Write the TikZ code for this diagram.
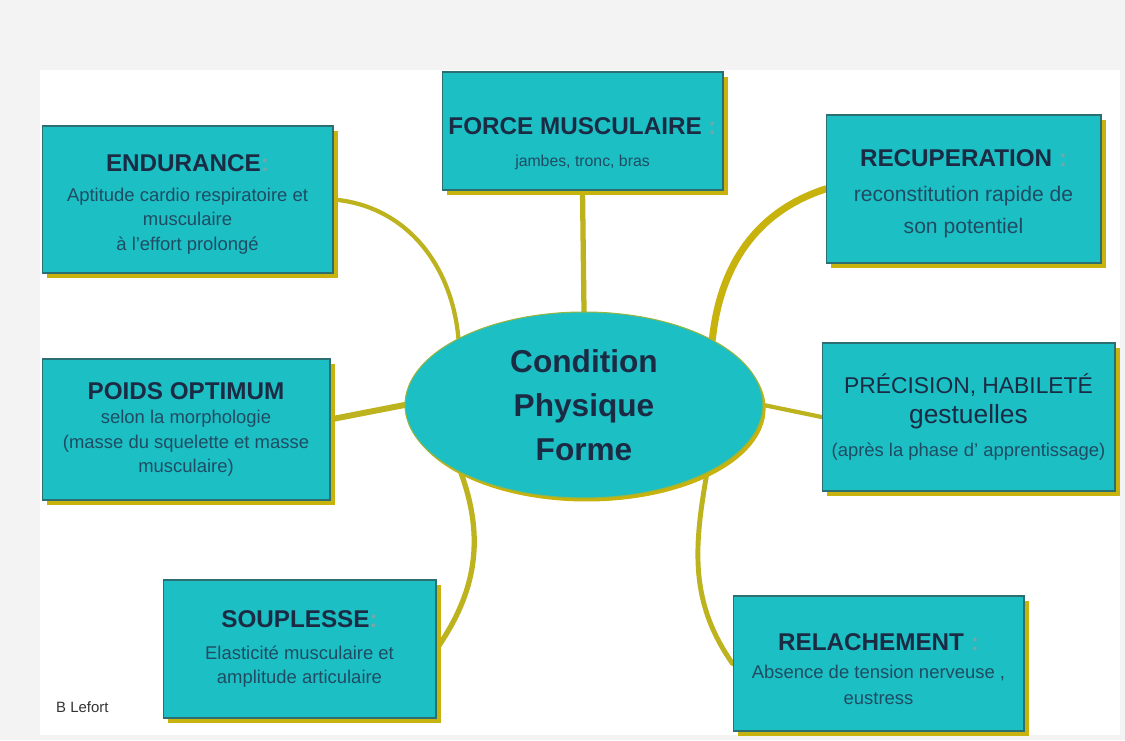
\documentclass[tikz,border=0pt]{standalone}
\usepackage{fontspec}
\setmainfont{Liberation Sans}
\usepackage{tikz}
\usetikzlibrary{shapes,positioning,backgrounds,shadows}

\definecolor{boxteal}{HTML}{1CBFC4}
\definecolor{boxedge}{HTML}{2B6F72}
\definecolor{shadowgold}{HTML}{C8B20E}
\definecolor{linkolive}{HTML}{BDB31E}
\definecolor{titlenavy}{HTML}{1B2B44}
\definecolor{bodyblue}{HTML}{1F4C63}
\definecolor{colonfaint}{HTML}{74A6AA}
\definecolor{pagegray}{HTML}{F3F3F3}

\newcommand{\boxtitle}[1]{{\fontsize{13.8}{16}\selectfont\bfseries\color{titlenavy}#1}}
\newcommand{\faintcolon}{\textcolor{colonfaint}{:}}

\tikzset{
  box/.style={rectangle, fill=boxteal, draw=boxedge, line width=0.6pt,
    inner sep=0pt, align=center, text=bodyblue,
    font=\fontsize{10.5}{14}\selectfont,
    drop shadow={shadow xshift=3pt, shadow yshift=-3pt, fill=shadowgold, opacity=1}},
  hub/.style={ellipse, fill=boxteal, draw=shadowgold!70!boxteal, line width=0.6pt,
    inner sep=0pt, minimum width=7.16cm, minimum height=3.72cm,
    align=center, text=titlenavy, font=\fontsize{18}{25}\selectfont\bfseries,
    drop shadow={shadow xshift=1.5pt, shadow yshift=-2pt, fill=shadowgold, opacity=1}},
  link/.style={draw=linkolive, line width=3pt, line cap=round}
}

\begin{document}
\begin{tikzpicture}[x=0.02cm, y=0.02cm]

  \useasboundingbox (0,0) rectangle (1125,740);

  \begin{scope}[on background layer]
    \fill[pagegray] (0,0) rectangle (1125,740);
    \fill[white] (40,5) rectangle (1120,670);
  \end{scope}

  % centre
  \node[hub] (core) at (584,335) {Condition\\Physique\\Forme};

  % branches
  \node[box, minimum width=5.62cm, minimum height=2.36cm] (force) at (582.5,609)
    {\rule{0pt}{24pt}\boxtitle{FORCE MUSCULAIRE \faintcolon}\\[4pt]
     {\fontsize{9}{11}\selectfont jambes, tronc, bras}};

  \node[box, minimum width=5.82cm, minimum height=2.94cm] (endur) at (187.5,540.5)
    {\rule{0pt}{15pt}\boxtitle{ENDURANCE\faintcolon}\\[3pt]
     Aptitude cardio respiratoire et\\musculaire\\à l'effort prolongé};

  \node[box, minimum width=5.50cm, minimum height=2.96cm,
    font=\fontsize{12}{18.5}\selectfont] (recup) at (963.5,551)
    {\rule{0pt}{15pt}\boxtitle{RECUPERATION \faintcolon}\\[1.5pt]
     reconstitution rapide de\\son potentiel};

  \node[box, minimum width=5.86cm, minimum height=2.96cm] (precis) at (968.5,323)
    {{\fontsize{13}{16}\selectfont\color{titlenavy}PRÉCISION, HABILETÉ}\\[3pt]
     {\fontsize{15}{18}\selectfont\color{titlenavy}gestuelles}\\[5pt]
     (après la phase d' apprentissage)};

  \node[box, minimum width=5.76cm, minimum height=2.82cm] (poids) at (186,310.5)
    {\boxtitle{POIDS OPTIMUM}\\
     selon la morphologie\\(masse du squelette et masse\\musculaire)};

  \node[box, minimum width=5.46cm, minimum height=2.76cm,
    font=\fontsize{10.5}{13.5}\selectfont] (soupl) at (299.5,91)
    {\boxtitle{SOUPLESSE\faintcolon}\\[5pt]
     Elasticité musculaire et\\amplitude articulaire};

  \node[box, minimum width=5.82cm, minimum height=2.70cm,
    font=\fontsize{10.5}{14.5}\selectfont] (relach) at (878.5,76.5)
    {\rule{0pt}{16pt}\boxtitle{RELACHEMENT \faintcolon}\\[1.5pt]
     Absence de tension nerveuse ,\\eustress};

  \node[anchor=west, text=black!80, font=\fontsize{8.5}{10}\selectfont] (author) at (50,33) {B Lefort};

  % connectors
  \begin{scope}[on background layer]
    \draw[link] (force.south) -- (core.north);
    \draw[link, line width=2.4pt] (endur.east) to[out=-5, in=95] (core.152);
    \draw[link, line width=4pt, draw=shadowgold] (recup.west) to[out=198, in=84] (core.27);
    \draw[link, line width=2.4pt] (core.east) -- (precis.west);
    \draw[link, line width=3.4pt] (poids.4) -- (core.west);
    \draw[link] (soupl.east) to[out=55, in=-70] (core.209);
    \draw[link, line width=2.8pt] (core.-29) to[out=-100, in=125] (relach.west);
  \end{scope}

\end{tikzpicture}
\end{document}
